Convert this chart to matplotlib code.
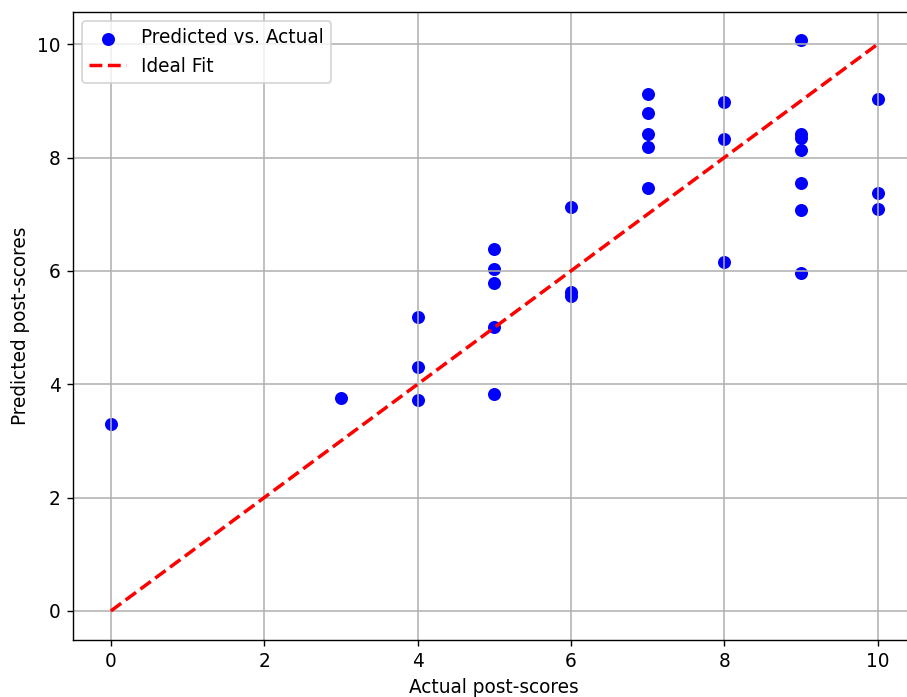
import numpy as np
import matplotlib.pyplot as plt

# Actual vs predicted post-scores
actual = [0, 3, 4, 4, 4, 5, 5, 5, 5, 5, 6, 6, 6,
          7, 7, 7, 7, 7, 8, 8, 8,
          9, 9, 9, 9, 9, 9, 9, 10, 10, 10]
predicted = [3.29, 3.75, 5.19, 4.30, 3.72, 6.39, 6.04, 5.78, 5.01, 3.82, 7.12, 5.63, 5.55,
             9.13, 8.79, 8.41, 8.18, 7.47, 8.98, 8.32, 6.15,
             10.07, 8.41, 8.34, 8.13, 7.55, 7.07, 5.97, 9.03, 7.38, 7.10]
ideal = [0, 10]

plt.rcParams['font.size'] = 10.7

dpi = 125
fig = plt.figure(figsize=(907 / dpi, 697 / dpi), dpi=dpi)
ax = fig.add_axes([72.5 / 907, (697 - 639.5) / 697, (916 - 72.5) / 907, (639.5 - 11.7) / 697])

ax.scatter(actual, predicted, color='blue', s=42, label='Predicted vs. Actual')
ax.plot(ideal, ideal, 'r--', linewidth=2, label='Ideal Fit')
ax.set_xlabel('Actual post-scores')
ax.set_ylabel('Predicted post-scores')
ax.legend(loc='upper left')
ax.grid(True, color='#b0b0b0', linewidth=0.9)

fig.savefig('out.png', dpi=dpi)
